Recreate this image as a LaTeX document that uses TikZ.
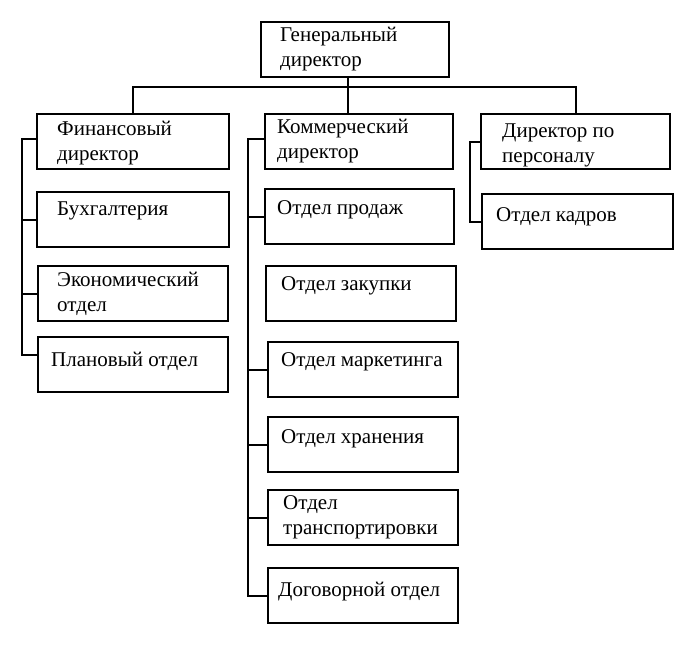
\documentclass[tikz,border=0pt]{standalone}
\usepackage{fontspec}
\setmainfont{Liberation Serif}
\usetikzlibrary{positioning}
\tikzset{
  unit/.style={draw,line width=2pt,anchor=north west,minimum width=190pt,minimum height=55pt,inner sep=0pt},
  caption/.style={anchor=north west,align=left,inner sep=0pt,font=\fontsize{21}{25}\selectfont},
  link/.style={line width=2pt}
}
\begin{document}
\begin{tikzpicture}[x=1pt,y=-1pt]
\useasboundingbox (0,0) rectangle (690,656);

\node[unit,minimum width=188pt] (gen) at (260,21) {};
\node[unit,minimum width=192pt] (fin) at (36,113) {};
\node[unit,minimum width=188pt] (com) at (264,113) {};
\node[unit,minimum width=189pt] (per) at (480,113) {};
\node[unit,minimum width=192pt] (buh) at (36,191) {};
\node[unit,minimum width=190pt] (eco) at (37,265) {};
\node[unit,minimum width=190pt] (plan) at (37,336) {};
\node[unit,minimum width=189pt] (prod) at (264,188) {};
\node[unit] (zak) at (265,265) {};
\node[unit] (mark) at (267,341) {};
\node[unit] (hran) at (267,416) {};
\node[unit] (trans) at (267,489) {};
\node[unit] (dog) at (267,567) {};
\node[unit,minimum width=191pt] (kadr) at (481,193) {};

\node[caption,below right=6pt and 20pt of gen.north west] (genT) {Генеральный\\директор};
\node[caption,below right=8pt and 21pt of fin.north west] (finT) {Финансовый\\директор};
\node[caption,below right=6pt and 13pt of com.north west] (comT) {Коммерческий\\директор};
\node[caption,below right=11pt and 22pt of per.north west] (perT) {Директор по\\персоналу};
\node[caption,below right=11pt and 21pt of buh.north west] (buhT) {Бухгалтерия};
\node[caption,below right=7pt and 20pt of eco.north west] (ecoT) {Экономический\\отдел};
\node[caption,below right=16pt and 14pt of plan.north west] (planT) {Плановый отдел};
\node[caption,below right=12pt and 13pt of prod.north west] (prodT) {Отдел продаж};
\node[caption,below right=11pt and 16pt of zak.north west] (zakT) {Отдел закупки};
\node[caption,below right=11pt and 14pt of mark.north west] (markT) {Отдел маркетинга};
\node[caption,below right=13pt and 14pt of hran.north west] (hranT) {Отдел хранения};
\node[caption,below right=6pt and 16pt of trans.north west] (transT) {Отдел\\транспортировки};
\node[caption,below right=15pt and 11pt of dog.north west] (dogT) {Договорной отдел};
\node[caption,below right=14pt and 15pt of kadr.north west] (kadrT) {Отдел кадров};

\coordinate (bus) at (0,87);
\coordinate (spL) at (22,0);
\coordinate (spM) at (248,0);
\coordinate (spR) at (470,0);
\coordinate (planL) at ([yshift=10pt]plan.west);

\draw[link] ([xshift=-7pt]gen.south) -- ([xshift=-7pt]gen.south |- com.north);
\draw[link] (fin.north) -- (fin.north |- bus) -- (per.north |- bus) -- (per.north);

\draw[link] ([yshift=3pt]fin.west) -- ([yshift=3pt]fin.west -| spL) |- (planL);
\foreach \n in {buh,eco}
  \draw[link] (\n.west) -- (\n.west -| spL);

\draw[link] ([yshift=3pt]com.west) -- ([yshift=3pt]com.west -| spM) |- (dog.west);
\foreach \n in {prod,mark,hran,trans}
  \draw[link] (\n.west) -- (\n.west -| spM);

\draw[link] (per.west) -- (per.west -| spR) |- (kadr.west);
\end{tikzpicture}
\end{document}
